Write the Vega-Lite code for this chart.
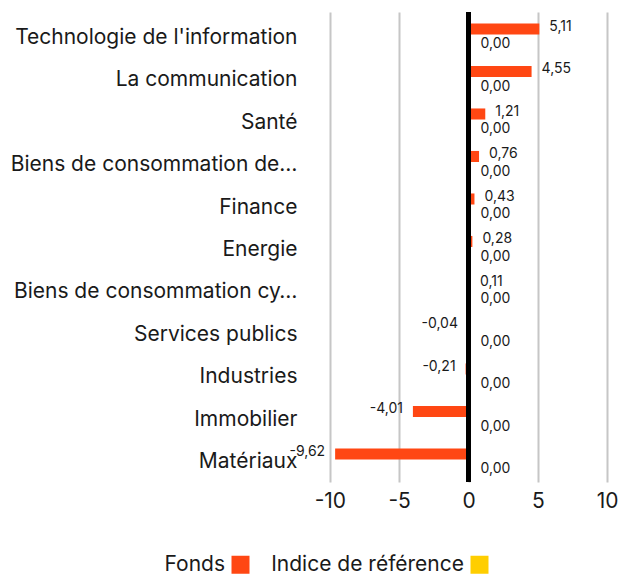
{
  "$schema": "https://vega.github.io/schema/vega-lite/v6.json",
  "autosize": {"type": "none"},
  "padding": {"left": 316, "top": 12, "right": 0, "bottom": 94},
  "width": 305,
  "height": 470,
  "config": {
    "font": "Inter",
    "view": {"stroke": null},
    "locale": {"number": {"decimal": ",", "thousands": " ", "grouping": [3], "currency": ["", " €"], "minus": "-"}}
  },
  "data": {
    "values": [
      {"cat": "Technologie de l'information", "serie": "Fonds", "v": 5.11},
      {"cat": "Technologie de l'information", "serie": "Indice de référence", "v": 0},
      {"cat": "La communication", "serie": "Fonds", "v": 4.55},
      {"cat": "La communication", "serie": "Indice de référence", "v": 0},
      {"cat": "Santé", "serie": "Fonds", "v": 1.21},
      {"cat": "Santé", "serie": "Indice de référence", "v": 0},
      {"cat": "Biens de consommation de base", "serie": "Fonds", "v": 0.76},
      {"cat": "Biens de consommation de base", "serie": "Indice de référence", "v": 0},
      {"cat": "Finance", "serie": "Fonds", "v": 0.43},
      {"cat": "Finance", "serie": "Indice de référence", "v": 0},
      {"cat": "Energie", "serie": "Fonds", "v": 0.28},
      {"cat": "Energie", "serie": "Indice de référence", "v": 0},
      {"cat": "Biens de consommation cyclique", "serie": "Fonds", "v": 0.11},
      {"cat": "Biens de consommation cyclique", "serie": "Indice de référence", "v": 0},
      {"cat": "Services publics", "serie": "Fonds", "v": -0.04},
      {"cat": "Services publics", "serie": "Indice de référence", "v": 0},
      {"cat": "Industries", "serie": "Fonds", "v": -0.21},
      {"cat": "Industries", "serie": "Indice de référence", "v": 0},
      {"cat": "Immobilier", "serie": "Fonds", "v": -4.01},
      {"cat": "Immobilier", "serie": "Indice de référence", "v": 0},
      {"cat": "Matériaux", "serie": "Fonds", "v": -9.62},
      {"cat": "Matériaux", "serie": "Indice de référence", "v": 0}
    ]
  },
  "encoding": {
    "y": {
      "field": "cat", "type": "nominal", "sort": null, "title": null,
      "scale": {"paddingInner": 0.48, "paddingOuter": 0.27},
      "axis": {"ticks": false, "domain": false, "labelFontSize": 21, "labelColor": "#1a1a1a", "labelPadding": 19, "labelLimit": 292, "labelOffset": 3}
    },
    "yOffset": {"field": "serie", "type": "nominal", "sort": ["Fonds", "Indice de référence"]},
    "x": {
      "field": "v", "type": "quantitative", "title": null,
      "scale": {"domain": [-11, 11], "nice": false, "zero": false},
      "axis": {"values": [-10, -5, 0, 5, 10], "ticks": false, "domain": false, "grid": true, "gridColor": "#c6c6c6", "gridWidth": 2, "labelFontSize": 21, "labelColor": "#1a1a1a", "labelPadding": 8, "format": "d"}
    }
  },
  "layer": [
    {
      "mark": {"type": "bar"},
      "encoding": {
        "color": {
          "field": "serie", "type": "nominal", "sort": ["Fonds", "Indice de référence"],
          "scale": {"domain": ["Fonds", "Indice de référence"], "range": ["#ff4713", "#ffce00"]},
          "legend": {
            "title": null, "orient": "none", "direction": "horizontal", "legendX": -86, "legendY": 542,
            "symbolType": "square", "symbolSize": 324, "symbolStrokeWidth": 0,
            "labelFontSize": 21, "labelColor": "#1a1a1a", "labelAlign": "right", "labelOffset": -26,
            "labelLimit": 400, "columnPadding": 21
          }
        }
      }
    },
    {
      "transform": [{"filter": "datum.serie == 'Fonds' && datum.v >= 0"}],
      "mark": {"type": "text", "align": "left", "dx": 10, "dy": -2, "fontSize": 14, "color": "#1a1a1a"},
      "encoding": {"text": {"field": "v", "type": "quantitative", "format": ".2f"}}
    },
    {
      "transform": [{"filter": "datum.serie == 'Fonds' && datum.v < 0"}],
      "mark": {"type": "text", "align": "right", "dx": -10, "dy": -2, "fontSize": 14, "color": "#1a1a1a"},
      "encoding": {"text": {"field": "v", "type": "quantitative", "format": ".2f"}}
    },
    {
      "transform": [{"filter": "datum.serie == 'Indice de référence'"}],
      "mark": {"type": "text", "align": "left", "dx": 12, "dy": 4, "fontSize": 14, "color": "#1a1a1a"},
      "encoding": {"text": {"field": "v", "type": "quantitative", "format": ".2f"}}
    },
    {
      "mark": {"type": "rule", "color": "#000000", "strokeWidth": 4},
      "encoding": {"x": {"datum": 0}, "y": null, "yOffset": null}
    }
  ]
}
